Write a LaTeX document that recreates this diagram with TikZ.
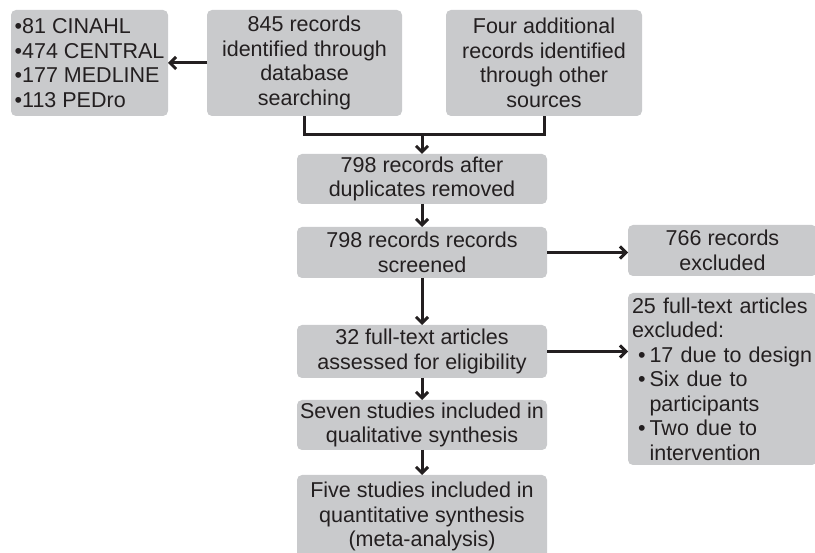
\documentclass[tikz,border=0pt]{standalone}
\usepackage{fontspec}
\setmainfont{Liberation Sans}
\usetikzlibrary{arrows.meta}
\definecolor{boxgray}{RGB}{201,202,204}
\definecolor{ink}{RGB}{35,31,32}

\begin{document}
\begin{tikzpicture}[x=1pt,y=-1pt,line width=3pt,color=ink,
	font=\fontsize{21.5}{24.5}\selectfont,
	stage/.style={fill=boxgray,draw=none,rounded corners=5pt,text=ink,align=center,inner sep=0pt,outer sep=0pt},
	flow/.style={-{Straight Barb[length=6pt,width=12pt]}}]
	\useasboundingbox (0,0) rectangle (815,553);
	% identification
	\node[stage,minimum width=195pt,minimum height=106pt] (db) at (304.5,63)
		{845 records\\identified through\\database\\searching};
	\node[stage,minimum width=196pt,minimum height=106pt] (other) at (544,63)
		{Four additional\\records identified\\through other\\sources};
	\node[stage,align=left,minimum width=157pt,minimum height=106pt] (list) at (89.5,63)
		{•81 CINAHL\\•474 CENTRAL\\•177 MEDLINE\\•113 PEDro};
	% screening
	\node[stage,minimum width=250pt,minimum height=50pt] (dupl) at (422,179)
		{798 records after\\duplicates removed};
	\node[stage,minimum width=250pt,minimum height=51pt] (screened) at (422,252.5)
		{798 records records\\screened};
	\node[stage,minimum width=189pt,minimum height=51pt] (excl) at (722.5,250.5)
		{766 records\\excluded};
	% eligibility
	\node[stage,minimum width=250pt,minimum height=53pt] (fulltext) at (422,351.5)
		{32 full-text articles\\assessed for eligibility};
	\node[stage,align=left,text width=181pt,inner xsep=4pt,minimum height=172pt] (exclft) at (722.5,379)
		{25 full-text articles\\excluded:\\
		\hspace*{6pt}•\hspace{4pt}17 due to design\\
		\hspace*{6pt}•\hspace{4pt}Six due to\\
		\hspace*{6pt}\phantom{•}\hspace{4pt}participants\\
		\hspace*{6pt}•\hspace{4pt}Two due to\\
		\hspace*{6pt}\phantom{•}\hspace{4pt}intervention};
	% included
	\node[stage,minimum width=250pt,minimum height=50pt] (qual) at (422,425)
		{Seven studies included in\\qualitative synthesis};
	\node[stage,minimum width=250pt,minimum height=83pt] (quant) at (422,516.5)
		{Five studies included in\\quantitative synthesis\\(meta-analysis)};

	\coordinate (join) at (422,135);
	\draw[flow] (db.west) -- (list.east);
	\draw (db.south) |- (join) -| (other.south);
	\draw[flow] (join) -- (dupl.north);
	\draw[flow] (dupl) -- (screened);
	\draw[flow] (screened.east) -- (screened.east -| excl.west);
	\draw[flow] (screened) -- (fulltext);
	\draw[flow] (fulltext.east) -- (fulltext.east -| exclft.west);
	\draw[flow] (fulltext) -- (qual);
	\draw[flow] (qual) -- (quant);
\end{tikzpicture}
\end{document}
